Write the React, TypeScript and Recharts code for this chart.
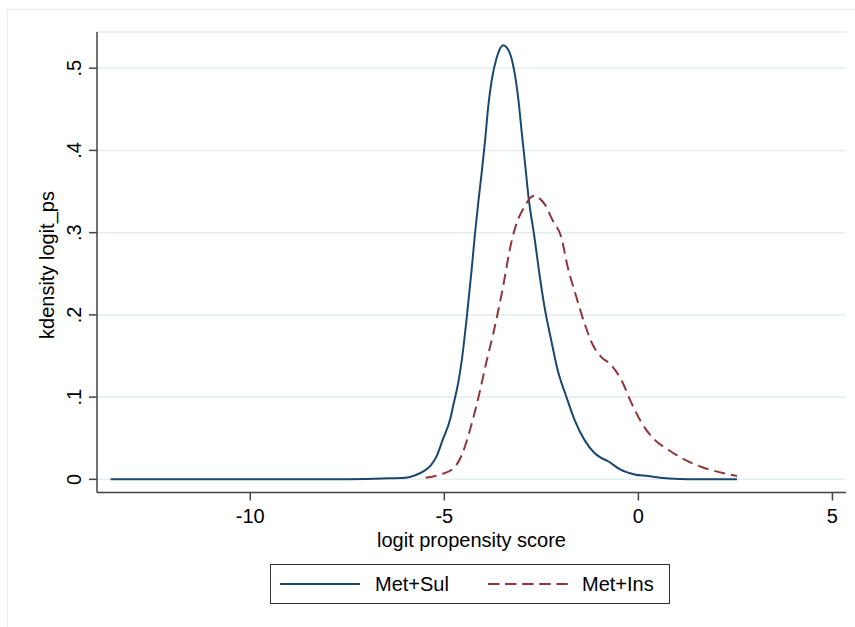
import React from "react"
import { LineChart, Line, XAxis, YAxis, CartesianGrid, Legend } from "recharts"

// Met+Sul density (logit propensity score -> kdensity)
const sulX = [
  -13.6, -12, -10, -8, -7, -6.6, -6.0, -5.75, -5.53, -5.35, -5.2, -5.05, -4.84, -4.77, -4.64, -4.55,
  -4.42, -4.29, -4.21, -4.12, -4.04, -3.95, -3.87, -3.78, -3.65, -3.48, -3.31, -3.2, -3.09, -3.01, -2.92,
  -2.83, -2.68, -2.55, -2.42, -2.25, -2.08, -1.86, -1.65, -1.39, -1.13, -0.99, -0.78, -0.47, -0.1, 0.25,
  0.56, 1.07, 1.5, 2.0, 2.54,
]
const sulY = [
  0, 0, 0, 0, 0.0005, 0.001, 0.002, 0.005, 0.01, 0.017, 0.028, 0.047, 0.075, 0.09, 0.118, 0.145,
  0.198, 0.258, 0.299, 0.339, 0.372, 0.412, 0.453, 0.485, 0.513, 0.528, 0.518, 0.497, 0.461, 0.424, 0.384,
  0.343, 0.295, 0.25, 0.21, 0.17, 0.133, 0.101, 0.073, 0.048, 0.032, 0.027, 0.022, 0.012, 0.006, 0.004,
  0.002, 0.0005, 0.0002, 0, 0,
]

// Met+Ins density
const insX = [
  -5.48, -5.09, -4.75, -4.53, -4.34, -4.1, -3.89, -3.74, -3.52, -3.26, -3.11, -2.94, -2.77, -2.68, -2.59,
  -2.42, -2.21, -1.99, -1.82, -1.6, -1.39, -1.17, -0.96, -0.7, -0.44, -0.18, 0.08, 0.42, 0.77, 1.11,
  1.63, 2.15, 2.54,
]
const insY = [
  0.002, 0.006, 0.014, 0.032, 0.06, 0.104, 0.148, 0.177, 0.226, 0.291, 0.315, 0.331, 0.343, 0.345, 0.343,
  0.335, 0.315, 0.295, 0.258, 0.222, 0.19, 0.163, 0.149, 0.139, 0.121, 0.093, 0.069, 0.048, 0.036, 0.026,
  0.015, 0.008, 0.004,
]

const xTicks = [-10, -5, 0, 5]
const yTicks = [0, 0.1, 0.2, 0.3, 0.4, 0.5]

const sulData = sulX.map((x, i) => ({ x, y: sulY[i] }))
const insData = insX.map((x, i) => ({ x, y: insY[i] }))

const NAVY = "#1a476f"
const MAROON = "#90353b"
const FONT = "'Liberation Sans', Arial, sans-serif"

const fmtY = (v: number) => (v === 0 ? "0" : String(v).replace(/^0/, ""))

const YTick = (props: any) => {
  const { y, payload } = props
  return (
    <text
      transform={`translate(80.5,${y}) rotate(-90)`}
      textAnchor="middle"
      fontSize={20}
      fontFamily={FONT}
      fill="#000"
    >
      {fmtY(payload.value)}
    </text>
  )
}

const LegendBox = () => (
  <svg width={400} height={40}>
    <rect x={0.5} y={0.5} width={399} height={39} fill="#fff" stroke="#333" strokeWidth={1} />
    <line x1={10} x2={90} y1={20} y2={20} stroke={NAVY} strokeWidth={2} />
    <text x={105} y={27} fontSize={20} fontFamily={FONT} fill="#000">
      Met+Sul
    </text>
    <line x1={218} x2={298} y1={20} y2={20} stroke={MAROON} strokeWidth={2} strokeDasharray="11.4 5.7" />
    <text x={312} y={27} fontSize={20} fontFamily={FONT} fill="#000">
      Met+Ins
    </text>
  </svg>
)

export default function App() {
  return (
    <div style={{ position: "absolute", left: 0, top: 0, width: 855, height: 627, overflow: "hidden", background: "#fff" }}>
      <div
        style={{
          position: "absolute",
          left: 7,
          top: 9,
          width: 900,
          height: 700,
          border: "1px solid #e8ecec",
        }}
      />
      <div style={{ position: "absolute", left: 0, top: 0 }}>
        <LineChart width={855} height={627} margin={{ top: 32, right: 9, left: 0, bottom: 74.5 }}>
          <CartesianGrid vertical={false} stroke="#e4edef" strokeWidth={1.5} />
          <XAxis
            type="number"
            dataKey="x"
            domain={[-13.95, 5.35]}
            ticks={xTicks}
            allowDataOverflow
            height={60}
            tickSize={8}
            tickMargin={8}
            stroke="#444"
            strokeWidth={1.5}
            tick={{ fontSize: 20, fontFamily: FONT, fill: "#000" }}
            label={{
              content: (p: any) => (
                <text
                  x={p.viewBox.x + p.viewBox.width / 2}
                  y={547}
                  textAnchor="middle"
                  fontSize={20}
                  fontFamily={FONT}
                  fill="#000"
                >
                  logit propensity score
                </text>
              ),
            }}
          />
          <YAxis
            type="number"
            domain={[-0.016, 0.544]}
            ticks={yTicks}
            allowDataOverflow
            width={97}
            tickSize={8}
            stroke="#444"
            strokeWidth={1.5}
            tick={<YTick />}
            label={{
              content: () => (
                <text
                  transform="translate(54,265) rotate(-90)"
                  textAnchor="middle"
                  fontSize={20}
                  fontFamily={FONT}
                  fill="#000"
                >
                  kdensity logit_ps
                </text>
              ),
            }}
          />
          <Legend
            verticalAlign="middle"
            align="center"
            wrapperStyle={{ left: 270, top: 564, width: 400, height: 40 }}
            content={() => <LegendBox />}
          />
          <Line
            data={sulData}
            dataKey="y"
            name="Met+Sul"
            type="monotone"
            stroke={NAVY}
            strokeWidth={2}
            dot={false}
            isAnimationActive={false}
          />
          <Line
            data={insData}
            dataKey="y"
            name="Met+Ins"
            type="monotone"
            stroke={MAROON}
            strokeWidth={2}
            strokeDasharray="11 6"
            dot={false}
            isAnimationActive={false}
          />
        </LineChart>
      </div>
    </div>
  )
}
